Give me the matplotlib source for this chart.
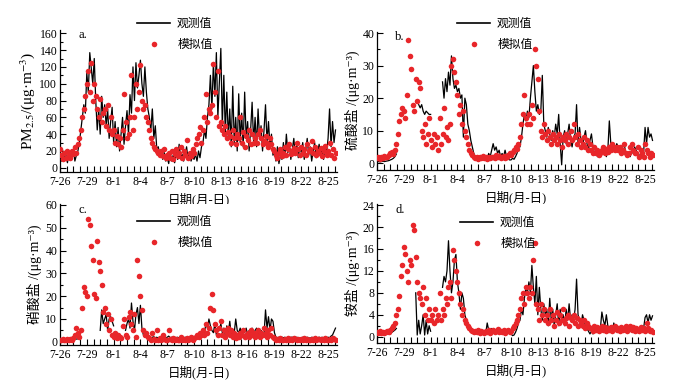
import numpy as np
import matplotlib
matplotlib.use('Agg')
import matplotlib.pyplot as plt
from matplotlib.lines import Line2D
from matplotlib.ticker import MultipleLocator

plt.rcParams['font.family'] = ['Liberation Serif', 'Noto Sans CJK SC', 'DejaVu Sans']
plt.rcParams['mathtext.fontset'] = 'stix'
plt.rcParams['axes.unicode_minus'] = False

nan = float('nan')

# time axis: 4-hourly samples, days since 7-26 00:00
STEPS_PER_DAY = 6
tick_days = list(range(0, 31, 3))
tick_labels = ['7-26', '7-29', '8-1', '8-4', '8-7', '8-10',
               '8-13', '8-16', '8-19', '8-22', '8-25']

# ---- a. PM2.5 ----
pm_obs = [
    12, 8, 20, 10, 15, 6,
    18, 10, 14, 22, 8, 15,
    20, 30, 45, 60, 75, 65,
    113, 90, 137, 118, 100, 130,
    80, 45, 70, 40, 85, 60,
    75, 50, 70, 35, 55, 72,
    30, 55, 25, 48, 20, 40,
    60, 28, 50, 68, 40, 87,
    65, 120, 80, 125, 95, 110,
    128, 100, 85, 120, 90, 70,
    60, 45, 70, 35, 50, 22,
    25, 15, 20, 10, 18, 8,
    12, 5, 18, 8, 15, 6,
    20, 10, 28, 12, 16, 8,
    15, 25, 10, 18, 8, 14,
    10, 16, 8, 20, 12, 25,
    30, 45, 35, 60, 75, 110,
    70, 125, 85, 137, 60, 100,
    142, 50, 110, 40, 90, 35,
    70, 25, 97, 30, 60, 20,
    88, 30, 65, 25, 90, 35,
    55, 20, 45, 78, 30, 60,
    25, 70, 35, 50, 20, 45,
    75, 30, 55, 25, 40, 15,
    20, 8, 25, 5, 15, 10,
    30, 12, 40, 18, 28, 10,
    22, 35, 15, 28, 12, 25,
    18, 30, 10, 22, 35, 15,
    25, 8, 20, 30, 12, 18,
    28, 15, 22, 10, 25, 18,
    35, 70, 25, 55, 30, 45,
]
pm_sim = [
    22, 15, 10, 18, 12, 20,
    15, 12, 20, 16, 25, 18,
    28, 35, 45, 60, 70, 85,
    100, 115, 90, 125, 80, 100,
    85, 70, 60, 82, 55, 65,
    70, 50, 75, 45, 60, 40,
    45, 30, 38, 28, 35, 25,
    45, 88, 55, 35, 40, 60,
    110, 45, 60, 100, 70, 90,
    122, 80, 70, 75, 60, 55,
    45, 35, 30, 25, 22, 20,
    18, 15, 20, 14, 22, 12,
    15, 18, 12, 20, 10, 16,
    22, 14, 18, 25, 12, 20,
    15, 33, 12, 18, 14, 22,
    18, 28, 35, 40, 48, 30,
    45, 60, 88, 55, 70, 65,
    75, 123, 90, 60, 115, 50,
    55, 45, 40, 50, 35, 42,
    38, 30, 45, 35, 28, 40,
    35, 60, 30, 42, 25, 38,
    33, 45, 28, 40, 30, 36,
    30, 40, 45, 35, 28, 32,
    38, 30, 25, 35, 28, 22,
    20, 15, 12, 18, 22, 14,
    18, 25, 15, 22, 28, 16,
    20, 24, 18, 30, 22, 15,
    25, 18, 22, 15, 28, 20,
    22, 32, 18, 25, 15, 20,
    18, 24, 14, 20, 26, 15,
    20, 30, 15, 22, 12, 18,
]

# ---- b. sulfate ----
so4_obs = [
    0.5, 0.5, 0.4, 0.5, 0.6, 0.5,
    0.6, 0.7, 0.8, 1.0, 1.2, 1.5,
    2.0, 2.8, nan, nan, nan, nan,
    nan, nan, nan, nan, nan, nan,
    nan, nan, nan, nan, 18, 17,
    18, 16, 15, 16, 15.5, 15,
    15, nan, nan, nan, nan, nan,
    nan, nan, 25, 20, 26, 22,
    28, 24, 33, 26, 23, 24,
    22, 23, 20, 21, 8, 20,
    18, 12, 10, 7, 5, 3,
    2, 1.5, 1.2, 1, 1.5, 1.2,
    1.5, 2, 1.5, 3, 2, 4,
    6, 4, 5, 3, 4, 2,
    3, 2, 4, 2, 1.5, 1,
    1, 1.5, 1.2, 2, 3, 5,
    5, 8, 12, 15, 13, 16,
    14, 20, 25, 30, 22, 16,
    18, 15, 16, 27, 12, 10,
    8, 11, 9, 7, 10, 8,
    12, 9, 15, 6, -0.5, 8,
    10, 6, 9, 12, 7, 5,
    8, 9, 18, 6, 11, 7,
    5, 8, 10, 6, 4, 7,
    9, 5, 3, 4, 2, 3,
    2, 4, 3, 5, 2, 4,
    13, 6, 4, 5, 4, 6,
    5, 4, 3, 5, 6, 3,
    2, 3, 2, 4, 3, 5,
    4, 3, 2, 3, 2, 3,
    11, 6, 11, 8, 9, 7,
]
so4_sim = [
    1.5, 2.0, 1.2, 1.8, 1.5, 2.2,
    1.8, 2.0, 2.5, 3.0, 3.5, 2.8,
    4, 6, 9, 13, 15, 17,
    16, 14, 21, 38, 33, 29,
    18, 16, 26, 19, 25, 23,
    10, 8, 12, 6, 9, 14,
    7, 5, 9, 6, 8, 4,
    14, 6, 9, 17, 8, 11,
    7, 12, 30, 32, 28, 25,
    21, 15, 18, 12, 16, 10,
    8, 6, 4, 3, 2.5, 2,
    1.5, 2, 1.2, 1.8, 1.5, 2.2,
    1.5, 1.8, 1.2, 2.0, 1.5, 1.8,
    2, 1.5, 2.5, 1.8, 2.2, 1.5,
    1.8, 2.2, 1.5, 2, 2.5, 3,
    2.5, 3.5, 4, 5, 4.5, 6,
    8, 12, 15, 21, 14, 12,
    15, 12, 18, 14, 35, 30,
    26, 16, 10, 8, 12, 9,
    7, 10, 8, 6, 9, 7,
    8, 6, 9, 7, 5, 8,
    7, 9, 6, 8, 10, 7,
    12, 8, 6, 9, 7, 5,
    6, 8, 5, 7, 4, 6,
    4, 3, 5, 3, 4, 2.5,
    3, 4, 5, 3, 4.5, 3.5,
    5, 4, 6, 5, 4, 5,
    4, 5, 3, 4, 6, 3,
    2.5, 3, 5, 6, 4, 3,
    3, 5, 2, 4, 3, 2,
    6, 4, 3, 2, 3, 2.5,
]

# ---- c. nitrate ----
no3_obs = [
    1.2, 1.2, 1.2, 1.2, 1.2, 1.2,
    1.2, 1.2, 1.2, 1.2, 1.2, 1.2,
    1.3, 1.5, nan, nan, nan, nan,
    nan, nan, nan, nan, nan, nan,
    nan, nan, nan, 5, 14, 8,
    10, 12, 5, 10, 11, 9,
    7, nan, nan, nan, nan, nan,
    nan, nan, 5, 8, 10, 6,
    17, 9, 5, 12, 15, 8,
    16, 6, 3, 2, 2, 1.5,
    2, 1.5, 2, 2.2, 1.8, 2,
    1.5, 2, 1.8, 1.5, 2, 1.8,
    2, 2.5, 1.8, 2, 1.5, 2,
    1.8, 2, 1.5, 2, 1.8, 1.5,
    2, 1.8, 1.5, 2, 1.8, 2.5,
    2, 1.8, 2.5, 3, 4, 3,
    5, 4, 8, 6, 10, 7,
    5, 4, 8, 3, 6, 5,
    8, 4, 6, 3, 7, 4,
    9, 3, 5, 4, 10, 5,
    4, 6, 3, 5, 4, 6,
    3, 5, 4, 6, 3, 5,
    6, 4, 3, 5, 4, 3,
    14, 6, 11, 5, 10, 9,
    4, 2, 1.8, 2, 1.5, 2,
    1.8, 2, 1.5, 2, 1.8, 2,
    2, 1.8, 1.5, 2, 1.8, 1.5,
    1.8, 2, 1.5, 1.8, 2, 1.8,
    1.5, 2, 1.8, 2, 1.5, 1.8,
    2, 1.8, 2, 1.5, 2, 1.8,
    2, 1.8, 2.5, 3, 4.5, 6,
]
no3_sim = [
    1, 0.8, 1.2, 1, 0.9, 1.1,
    1, 1.2, 0.8, 1.5, 3, 6,
    4, 2, 5, 15, 24, 22,
    20, 54, 51, 42, 36, 21,
    19, 44, 35, 31, 25, 13,
    15, 8, 12, 5, 10, 3,
    2, 4, 1.5, 3, 2, 1.5,
    7, 10, 3, 2, 11, 13,
    8, 5, 12, 2, 36, 29,
    20, 14, 5, 3, 4, 2,
    1.5, 1, 4, 1.2, 1, 5,
    1, 1.5, 1, 3, 1.2, 1,
    1, 5, 1.2, 1, 1.5, 1,
    1.2, 1, 1, 2, 1, 1.2,
    1, 1.5, 1, 1.2, 2, 1,
    1.5, 2, 3, 2, 4, 3,
    5, 3, 8, 4, 6, 15,
    21, 14, 8, 5, 3, 6,
    9, 3, 5, 2, 4, 6,
    3, 5, 2, 4, 1.5, 3,
    2, 4, 3, 5, 2, 3,
    4, 2, 5, 3, 4, 2,
    3, 5, 2, 4, 3, 6,
    4, 2, 5, 3, 6, 2,
    1.5, 1, 1.2, 1, 1.5, 1,
    1, 1.2, 1, 1.5, 1, 1.2,
    1, 1.5, 1.2, 1, 1.2, 1,
    1.2, 1, 1.5, 1, 1.2, 1,
    1, 1.2, 1, 1.5, 1, 1.2,
    1.2, 1, 1.2, 1, 1.5, 1,
    1, 1.2, 1, 1.5, 1.2, 1,
]

# ---- d. ammonium ----
nh4_obs = [
    0.3, 0.4, 0.3, 0.5, 0.4, 0.3,
    0.4, 0.5, 0.4, 0.6, 0.8, 1.0,
    1.2, 1.5, nan, nan, nan, nan,
    nan, nan, nan, nan, nan, nan,
    nan, nan, 8, 0.3, 3, 0.5,
    2, 4, 0.3, 3, 0.5, 2,
    1, nan, nan, nan, nan, nan,
    nan, nan, 9, 11, 10, 12,
    17.5, 12, 8, 10, 14, 15,
    10, 8, 5, 8, 7, 4,
    3, 2, 1.5, 1, 0.8, 0.6,
    0.5, 0.8, 0.6, 0.9, 0.5, 0.7,
    1, 0.6, 2.5, 1.2, 0.8, 1.5,
    0.8, 1.2, 0.6, 1.5, 1, 0.8,
    0.6, 1, 0.5, 0.8, 1.2, 0.6,
    0.5, 0.2, 0.3, 0.8, 1.5, 2.5,
    3, 5, 4, 7, 9, 8,
    10, 8, 13, 9, 6, 11,
    4, 9, 5, 3, 6, 4,
    5, 2, 7, 3, 5, 2,
    4, 6, 2, 5, 3, 4,
    2, 5, 3, 6, 3, 4,
    3, 5, 10.5, 4, 3, 2,
    4, 3, 2, 1.5, 1, 0.5,
    1, 0.5, 1.5, 0.8, 1.2, 1,
    1.5, 4.5, 3, 2, 4, 2,
    1.5, 2, 1, 2.5, 1.5, 2,
    1, 1.5, 2, 1, 1.5, 0.8,
    1.2, 2, 1, 1.5, 0.8, 1,
    1.5, 1, 0.8, 1.2, 1, 1.5,
    3.5, 4, 2.5, 4, 3, 3.8,
]
nh4_sim = [
    0.8, 0.6, 1.0, 0.7, 0.9, 0.6,
    0.8, 1.0, 0.9, 1.2, 1.5, 2.0,
    2.5, 4, 5, 7.5, 11, 13,
    16.3, 15, 12, 10, 14, 13,
    20.3, 19.5, 14.5, 10, 8, 7,
    6, 9, 4, 7, 3, 5,
    3, 4, 2.5, 5, 3, 4,
    8, 3, 5, 4, 7, 6,
    9, 10, 7, 15.8, 14, 12,
    10, 8, 6, 4, 5, 3,
    2.5, 2, 1.5, 1.2, 1, 0.8,
    1, 0.8, 1.2, 0.6, 1, 0.8,
    0.7, 1.1, 0.8, 1.2, 0.6, 1,
    1.2, 0.8, 1, 1.4, 0.8, 1,
    0.9, 1.2, 0.7, 1, 1.3, 0.8,
    1, 1.5, 2, 2.5, 3, 4,
    5, 7, 8, 6, 9, 8,
    7, 9, 8, 14, 17, 6,
    5, 3, 6, 4, 5, 3,
    4, 2.5, 5, 3, 4, 2,
    3, 4.5, 2.5, 4, 3, 5,
    2.5, 3.5, 4, 2, 3.5, 3,
    4, 2.5, 3.5, 2, 3, 2.5,
    2, 3, 1.5, 2.5, 2, 1.5,
    1.5, 1, 2, 1.2, 1.8, 1,
    1.5, 2, 1.2, 1.8, 1, 1.5,
    1.2, 1.8, 1, 1.5, 2, 1.2,
    1.5, 1, 1.8, 1.2, 1.5, 2,
    1, 1.5, 2, 1.2, 1.8, 1,
    1.5, 1.2, 1, 1.8, 1.2, 1.5,
    1, 2.5, 1.5, 1, 1.2, 0.8,
]

W, H = 685, 386
RED = '#e8262a'

fig = plt.figure(figsize=(W / 100, H / 100), dpi=100)


def px_axes(left, top, right, bottom):
    return fig.add_axes([left / W, 1 - bottom / H, (right - left) / W, (bottom - top) / H])


panels = [
    # (axes px box, obs, sim, ylim, ymajor, yminor, ylabel, label size, tag, legend px)
    ((60, 29.5, 337, 172), pm_obs, pm_sim, (-5, 164.5), 20, 10,
     r'PM$_{2.5}$/(μg·m$^{-3}$)', 11, 'a.', (137, 18)),
    ((377, 31.5, 654, 170), so4_obs, so4_sim, (-2.1, 40.5), 10, 5,
     '硫酸盐 /(μg·m⁻³)', 10, 'b.', (457, 18)),
    ((60, 204, 337, 345), no3_obs, no3_sim, (-1.4, 60.4), 10, 5,
     '硝酸盐 /(μg·m⁻³)', 10, 'c.', (137, 216)),
    ((377, 204, 654, 343), nh4_obs, nh4_sim, (-1.15, 24.2), 4, 2,
     '铵盐 /(μg·m⁻³)', 10, 'd.', (460, 217)),
]

for box, obs, sim, ylim, ymaj, ymin, ylab, ylsize, tag, leg in panels:
    ax = px_axes(*box)
    t = np.arange(len(obs)) / STEPS_PER_DAY
    ax.plot(t, obs, color='black', lw=0.9, zorder=2)
    ax.plot(t, sim, ls='none', marker='o', ms=4.0, mec=RED, mfc=RED, mew=0, zorder=3)

    ax.set_xlim(0, 31)
    ax.set_ylim(*ylim)
    ax.set_xticks(tick_days)
    ax.set_xticklabels(tick_labels)
    ax.xaxis.set_minor_locator(MultipleLocator(0.75))
    ax.yaxis.set_major_locator(MultipleLocator(ymaj))
    ax.yaxis.set_minor_locator(MultipleLocator(ymin))
    ax.tick_params(axis='both', which='both', direction='in', labelsize=8.5, width=0.8)
    ax.tick_params(axis='x', which='both', length=4, pad=3)
    ax.tick_params(axis='y', which='major', length=4, pad=2)
    ax.tick_params(axis='y', which='minor', length=2)
    ax.set_yticks([v for v in ax.get_yticks() if 0 <= v <= ylim[1]])
    for s in ['top', 'right']:
        ax.spines[s].set_visible(False)
    for s in ['left', 'bottom']:
        ax.spines[s].set_linewidth(0.9)

    ax.set_xlabel('日期(月-日)', fontsize=9, labelpad=3)
    ax.set_ylabel(ylab, fontsize=ylsize, labelpad=2)
    ax.text(0.065, 1.0, tag, transform=ax.transAxes, fontsize=9, va='top', ha='left')

    handles = [
        Line2D([], [], color='black', lw=1.2),
        Line2D([], [], ls='none', marker='o', ms=4, mec=RED, mfc=RED, mew=0),
    ]
    fig.legend(handles, ['观测值', '模拟值'], loc='upper left',
               bbox_to_anchor=(leg[0] / W, 1 - leg[1] / H),
               frameon=False, fontsize=8.5, handlelength=2.8, handletextpad=0.6,
               labelspacing=0.75, borderpad=0, borderaxespad=0, numpoints=1)

fig.savefig('out.png', dpi=100)
